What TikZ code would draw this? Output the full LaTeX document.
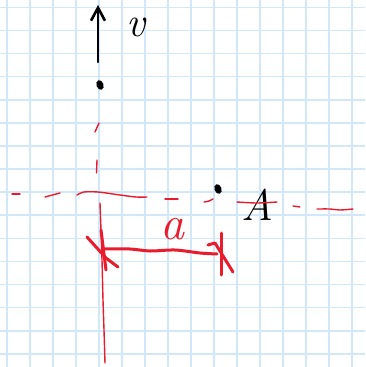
\documentclass[tikz,border=0pt]{standalone}
\usepackage{fontspec}
\usetikzlibrary{arrows.meta,shapes.geometric}
\definecolor{gridblue}{RGB}{208,232,250}
\definecolor{penred}{RGB}{232,28,44}

\begin{document}
\begin{tikzpicture}
	[x=1pt, y=-1pt,
	grid/.style={gridblue, line width=1.6pt},
	ink/.style={black, line width=2.6pt, line cap=round},
	redink/.style={penred, line width=1.4pt, line cap=round},
	dimline/.style={penred, line width=3pt, line cap=round, line join=round},
	blob/.style={ellipse, fill=black, minimum width=7pt, minimum height=10pt, inner sep=0pt},
	big/.style={font=\fontsize{#1}{#1}\selectfont\itshape, inner sep=0pt}]
	\useasboundingbox (0,0) rectangle (365,367);
	\fill[white] (0,0) rectangle (365,367);
	% squared paper
	\foreach \i in {0,...,15} {
		\draw[grid] ({6.7+23*\i},0) -- ({6.7+23*\i},367);
		\draw[grid] (0,{7.3+23.1*\i}) -- (365,{7.3+23.1*\i});
	}
	% velocity
	\coordinate (vtail) at (98,62);
	\coordinate (vtip) at (98,5);
	\draw[ink, -{Straight Barb[length=13pt,width=14pt]}] (vtail) -- (vtip);
	\node[big=42, anchor=base] (vlab) at (136,36) {v};
	\node[blob, rotate=20] (p0) at (100,85) {};
	\node[blob, rotate=20] (pA) at (218,189) {};
	\node[big=44] (Alab) at (257,205) {A};
	% red axes
	\begin{scope}[redink]
		\draw (12,194) -- (20,194);
		\draw (45,197) -- (60,193);
		\draw plot[smooth] coordinates {(77,195) (84,192) (98,192) (120,195) (136,197) (147,197)};
		\draw (165,199) -- (178,199);
		\draw plot[smooth] coordinates {(204,202) (209,201) (213,199)};
		\draw plot[smooth] coordinates {(237,202) (257,203) (277,202)};
		\draw (293,206) -- (300,207);
		\draw plot[smooth] coordinates {(317,209) (330,209) (340,210) (353,209)};
		\draw (99,123) -- (95,132);
		\draw (97,160) -- (96.5,173);
		\draw plot[smooth] coordinates {(100,203) (101,230) (102,260) (103,300) (104,330) (105,363)};
	\end{scope}
	% distance a
	\coordinate (dimL) at (103,249);
	\coordinate (dimR) at (217,254);
	\draw[dimline] plot[smooth] coordinates {(dimL) (130,249) (150,251) (175,250) (200,253) (dimR)};
	\draw[dimline] (101,230) -- (106,270);
	\draw[dimline] (87,237) -- (106,258) -- (118,267);
	\draw[dimline] (221,233) -- (221,275);
	\draw[dimline] (208,245) -- (215,243) -- (233,272);
	\node[penred, big=48] (alab) at (172,229) {a};
\end{tikzpicture}
\end{document}
